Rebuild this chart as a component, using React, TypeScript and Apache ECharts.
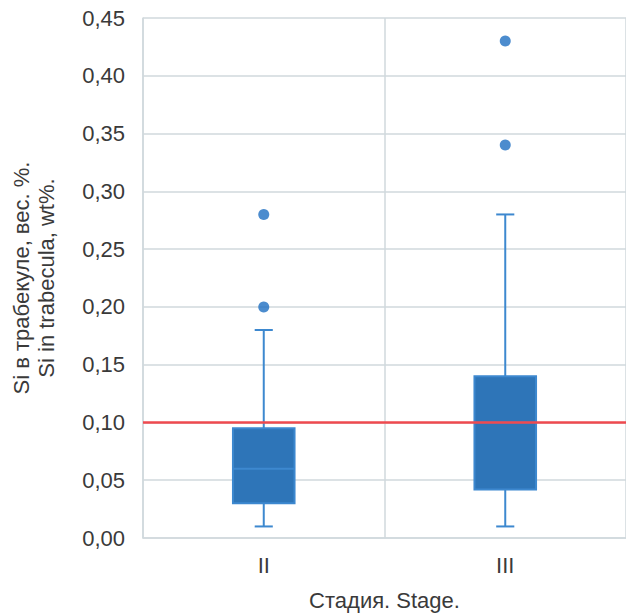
import React, { useEffect, useRef } from "react";
import * as echarts from "echarts";

const categories = ["II", "III"];
// [low whisker, Q1, median, Q3, high whisker]
const boxValues = [
  [0.01, 0.03, 0.06, 0.095, 0.18],
  [0.01, 0.042, 0.1, 0.14, 0.28],
];
const outliers: [string, number][] = [
  ["II", 0.2],
  ["II", 0.28],
  ["III", 0.34],
  ["III", 0.43],
];
const thresholdValue = 0.1;
const yTicks = { min: 0, max: 0.45, interval: 0.05 };

const FONT = "'Liberation Sans', Arial, sans-serif";
const TEXT = "#3a3a3a";
const GRID = "#d1d9dd";
const BLUE = "#2e75b8";
const BLUE_LINE = "#3d88cf";

export default function App() {
  const ref = useRef<HTMLDivElement>(null);
  useEffect(() => {
    if (!ref.current) return;
    const chart = echarts.init(ref.current, undefined, { renderer: "svg" });
    const boxData = boxValues.map((v, i) => [i, ...v]);
    chart.setOption({
      animation: false,
      backgroundColor: "#ffffff",
      grid: { left: 143, top: 18, right: -3, bottom: 72 },
      xAxis: {
        type: "category",
        data: categories,
        boundaryGap: true,
        name: "Стадия. Stage.",
        nameLocation: "middle",
        nameGap: 51,
        nameTextStyle: { color: TEXT, fontSize: 22, fontFamily: FONT },
        axisLine: { show: true, lineStyle: { color: GRID, width: 1.5 } },
        axisTick: { show: false },
        axisLabel: { color: TEXT, fontSize: 22, fontFamily: FONT, margin: 16 },
        splitLine: { show: true, lineStyle: { color: GRID, width: 1.5 } },
      },
      yAxis: {
        type: "value",
        min: yTicks.min,
        max: yTicks.max,
        interval: yTicks.interval,
        name: "Si в трабекуле, вес. %.\nSi in trabecula, wt%.",
        nameLocation: "middle",
        nameGap: 84,
        nameTextStyle: { color: TEXT, fontSize: 22, fontFamily: FONT, lineHeight: 25 },
        axisLine: { show: true, lineStyle: { color: GRID, width: 1.5 } },
        axisTick: { show: false },
        axisLabel: {
          color: TEXT,
          fontSize: 22,
          fontFamily: FONT,
          margin: 18,
          formatter: (v: number) => v.toFixed(2).replace(".", ","),
        },
        splitLine: { show: true, lineStyle: { color: GRID, width: 1.5 } },
      },
      series: [
        {
          type: "custom",
          data: boxData,
          z: 3,
          renderItem: (params: any, api: any) => {
            const idx = api.value(0);
            const lo = api.coord([idx, api.value(1)]);
            const q1 = api.coord([idx, api.value(2)]);
            const med = api.coord([idx, api.value(3)]);
            const q3 = api.coord([idx, api.value(4)]);
            const hi = api.coord([idx, api.value(5)]);
            const band = api.size([1, 0])[0];
            const bw = band * 0.255;
            const cw = band * 0.075;
            const x = lo[0];
            const lineStyle = { stroke: BLUE_LINE, lineWidth: 2 };
            return {
              type: "group",
              children: [
                { type: "line", shape: { x1: x, y1: lo[1], x2: x, y2: q1[1] }, style: lineStyle },
                { type: "line", shape: { x1: x, y1: q3[1], x2: x, y2: hi[1] }, style: lineStyle },
                { type: "line", shape: { x1: x - cw / 2, y1: lo[1], x2: x + cw / 2, y2: lo[1] }, style: lineStyle },
                { type: "line", shape: { x1: x - cw / 2, y1: hi[1], x2: x + cw / 2, y2: hi[1] }, style: lineStyle },
                {
                  type: "rect",
                  shape: { x: x - bw / 2, y: q3[1], width: bw, height: q1[1] - q3[1] },
                  style: { fill: BLUE, stroke: BLUE_LINE, lineWidth: 2 },
                },
                { type: "line", shape: { x1: x - bw / 2, y1: med[1], x2: x + bw / 2, y2: med[1] }, style: lineStyle },
              ],
            };
          },
        },
        {
          type: "scatter",
          data: outliers,
          symbol: "circle",
          symbolSize: 11,
          itemStyle: { color: "#1f6fc2" },
          z: 4,
          markLine: {
            silent: true,
            symbol: ["none", "none"],
            label: { show: false },
            lineStyle: { color: "#ef4a4f", width: 2.5, type: "solid" },
            data: [{ yAxis: thresholdValue }],
            z: 5,
          },
        },
      ],
    });
    return () => chart.dispose();
  }, []);
  return (
    <div
      ref={ref}
      style={{ position: "fixed", left: 0, top: 0, width: 626, height: 616, background: "#fff" }}
    />
  );
}
